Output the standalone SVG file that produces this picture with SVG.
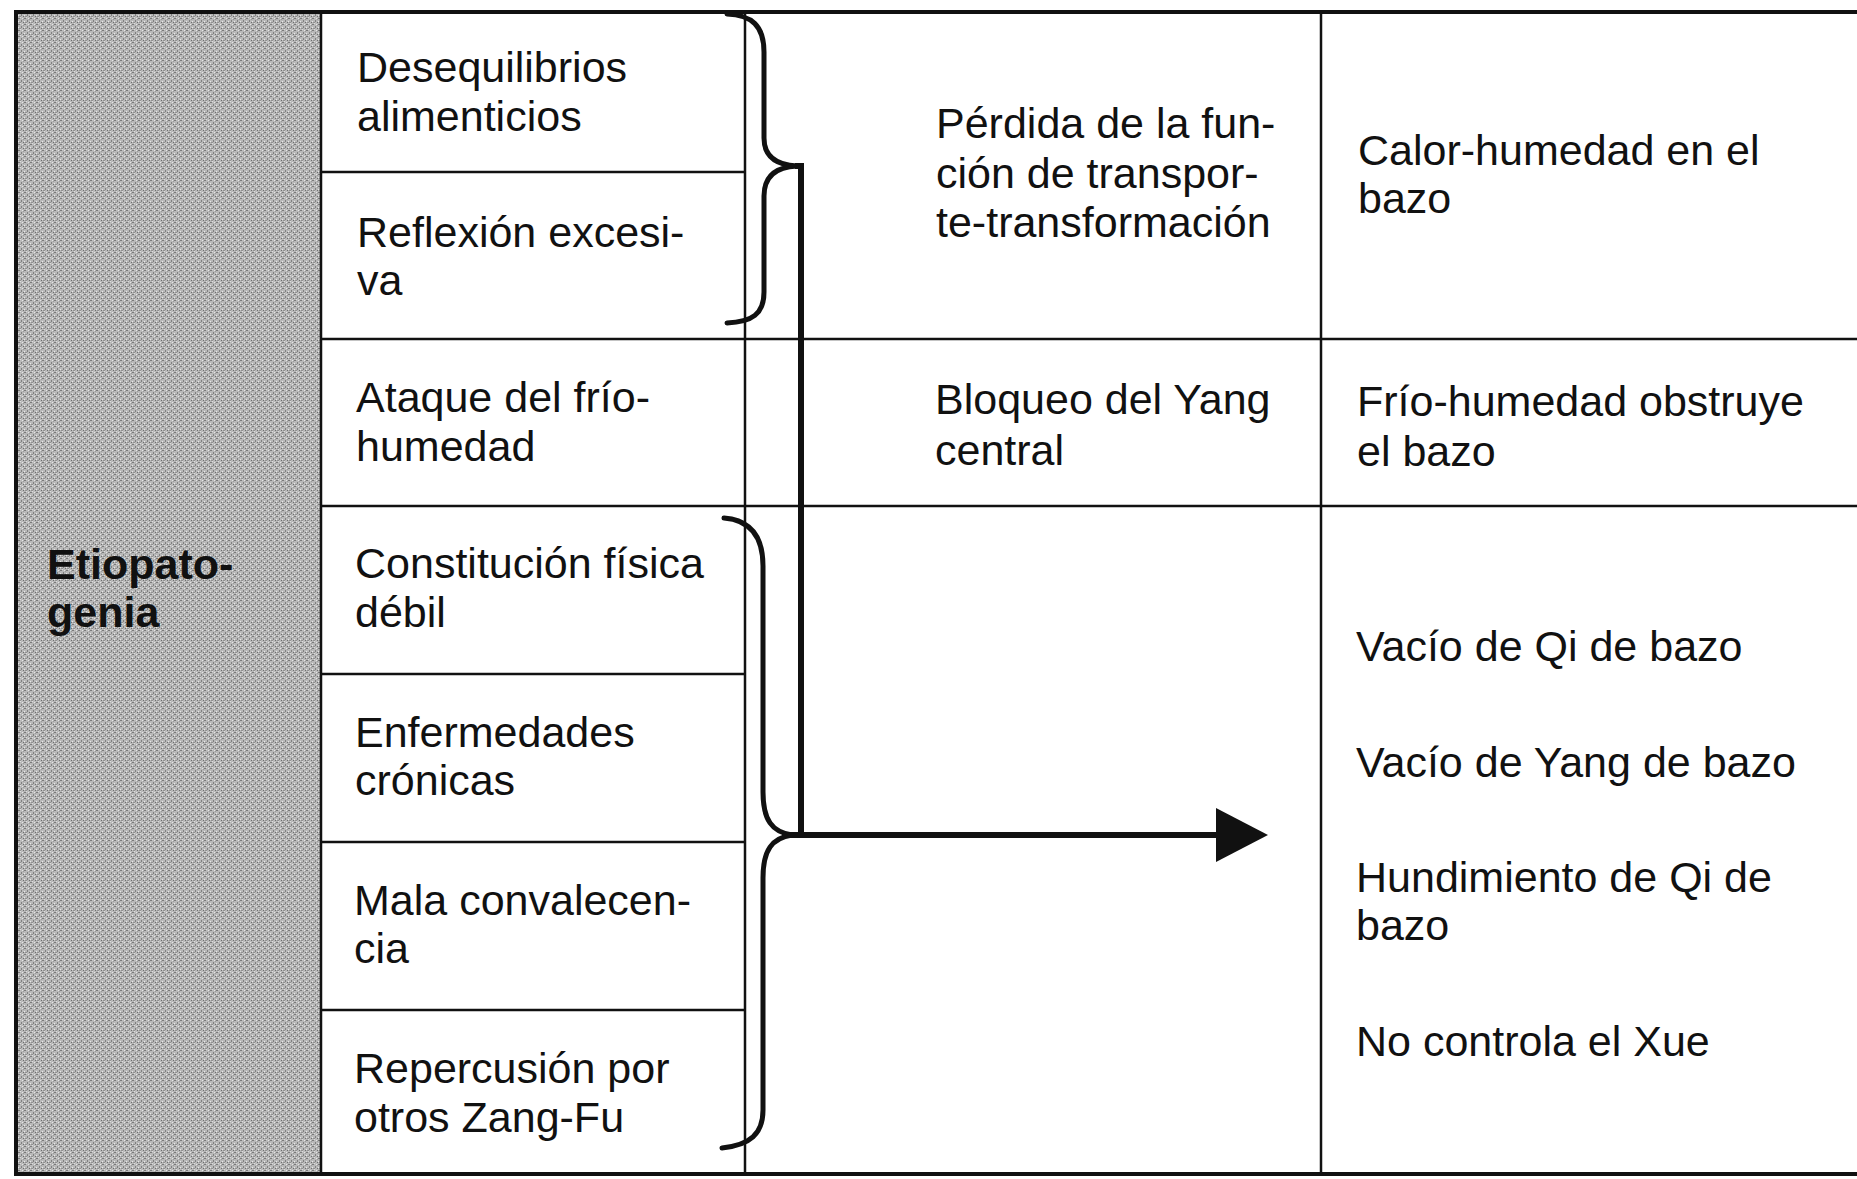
<svg xmlns="http://www.w3.org/2000/svg" width="1857" height="1179" viewBox="0 0 1857 1179">
<style>
.t{font-family:"Liberation Sans",Arial,sans-serif;font-size:43px;fill:#111}
.b{font-weight:bold}
.ln{stroke:#111;stroke-width:2.5;fill:none}
.frame{stroke:#111;stroke-width:4;fill:none}
.brace{stroke:#111;stroke-width:5;fill:none;stroke-linecap:round;stroke-linejoin:round}
.conn{stroke:#111;stroke-width:6;fill:none}
</style>
<defs>
<pattern id="halftone" width="6" height="6" patternUnits="userSpaceOnUse">
<rect width="6" height="6" fill="#b9b9b9"/>
<rect x="0" y="0" width="2" height="1" fill="#7a7a7a"/>
<rect x="3" y="2" width="1" height="2" fill="#808080"/>
<rect x="5" y="4" width="1" height="1" fill="#6e6e6e"/>
<rect x="1" y="4" width="2" height="1" fill="#929292"/>
<rect x="4" y="0" width="1" height="1" fill="#e6e6e6"/>
<rect x="0" y="3" width="1" height="1" fill="#e8e8e8"/>
<rect x="2" y="5" width="1" height="1" fill="#dcdcdc"/>
<rect x="5" y="1" width="1" height="1" fill="#9a9a9a"/>
</pattern>
<marker id="arrow" markerUnits="userSpaceOnUse" markerWidth="54" markerHeight="56" refX="0" refY="27" orient="auto">
<path d="M0,0 L52,27 L0,54 Z" fill="#111"/>
</marker>
</defs>
<rect width="1857" height="1179" fill="#ffffff"/>

<g id="shaded-column">
<rect x="18" y="14" width="303" height="1158" fill="url(#halftone)"/>
</g>

<g id="grid">
<path class="frame" d="M1857,12 L16,12 L16,1174 L1857,1174"/>
<line class="ln" x1="321" y1="12" x2="321" y2="1174"/>
<line class="ln" x1="745" y1="12" x2="745" y2="1174"/>
<line class="ln" x1="1321" y1="12" x2="1321" y2="1174"/>
<line class="ln" x1="321" y1="172" x2="745" y2="172"/>
<line class="ln" x1="321" y1="339" x2="1857" y2="339"/>
<line class="ln" x1="321" y1="506" x2="1857" y2="506"/>
<line class="ln" x1="321" y1="674" x2="745" y2="674"/>
<line class="ln" x1="321" y1="842" x2="745" y2="842"/>
<line class="ln" x1="321" y1="1010" x2="745" y2="1010"/>
</g>

<g id="etiopatogenia">
<text class="t b" x="47" y="579">Etiopato-</text>
<text class="t b" x="47" y="627">genia</text>
</g>

<g id="desequilibrios"><text class="t" x="357" y="82">Desequilibrios</text><text class="t" x="357" y="131">alimenticios</text></g>
<g id="reflexion"><text class="t" x="357" y="247">Reflexión excesi-</text><text class="t" x="357" y="295">va</text></g>
<g id="ataque"><text class="t" x="356" y="412">Ataque del frío-</text><text class="t" x="356" y="461">humedad</text></g>
<g id="constitucion"><text class="t" x="355" y="578">Constitución física</text><text class="t" x="355" y="627">débil</text></g>
<g id="enfermedades"><text class="t" x="355" y="747">Enfermedades</text><text class="t" x="355" y="795">crónicas</text></g>
<g id="mala"><text class="t" x="354" y="915">Mala convalecen-</text><text class="t" x="354" y="963">cia</text></g>
<g id="repercusion"><text class="t" x="354" y="1083">Repercusión por</text><text class="t" x="354" y="1132">otros Zang-Fu</text></g>

<g id="perdida"><text class="t" x="936" y="138">Pérdida de la fun-</text><text class="t" x="936" y="188">ción de transpor-</text><text class="t" x="936" y="237">te-transformación</text></g>
<g id="bloqueo"><text class="t" x="935" y="414">Bloqueo del Yang</text><text class="t" x="935" y="465">central</text></g>

<g id="calor"><text class="t" x="1358" y="165">Calor-humedad en el</text><text class="t" x="1358" y="213">bazo</text></g>
<g id="frio"><text class="t" x="1357" y="416">Frío-humedad obstruye</text><text class="t" x="1357" y="466">el bazo</text></g>
<g id="vacio-qi"><text class="t" x="1356" y="661">Vacío de Qi de bazo</text></g>
<g id="vacio-yang"><text class="t" x="1356" y="777">Vacío de Yang de bazo</text></g>
<g id="hundimiento"><text class="t" x="1356" y="892">Hundimiento de Qi de</text><text class="t" x="1356" y="940">bazo</text></g>
<g id="no-controla"><text class="t" x="1356" y="1056">No controla el Xue</text></g>

<g id="connectors">
<path class="brace" d="M727,14 C752,15 764,26 764,52 L764,138 C764,156 776,165 797,166 C776,167 764,176 764,196 L764,292 C764,314 752,322 727,323"/>
<path class="brace" d="M724,518 C750,520 763,536 763,566 L763,792 C763,820 772,832 792,835 C772,838 763,850 763,878 L763,1110 C763,1134 750,1145 722,1148"/>
<path class="conn" d="M795,166 L801,166 L801,835"/>
<path class="conn" d="M790,835 L1216,835" marker-end="url(#arrow)"/>
</g>
</svg>
